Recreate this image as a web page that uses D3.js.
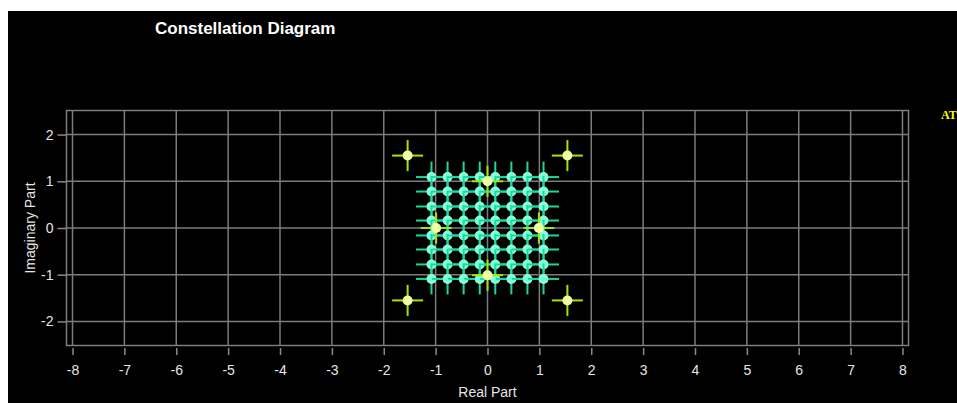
<!DOCTYPE html>
<html>
<head>
<meta charset="utf-8">
<script src="https://cdn.jsdelivr.net/npm/d3@7"></script>
<style>
  html, body { margin: 0; padding: 0; background: #fff; }
  svg { display: block; }
</style>
</head>
<body>
<div id="chart"></div>
<script>
// 64-QAM reference grid (real / imaginary levels)
var qamLevelsI = [-1.08, -0.77, -0.46, -0.15, 0.15, 0.46, 0.77, 1.08];
var qamLevelsQ = [1.09, 0.78, 0.46, 0.16, -0.16, -0.46, -0.78, -1.09];
// received symbols (yellow)
var rxI = [-1.54, 1.54, -1.54, 1.54, 0, -0.99, 0.99, 0];
var rxQ = [1.55, 1.55, -1.55, -1.55, 1.0, 0, 0, -1.01];
var xTicks = [-8, -7, -6, -5, -4, -3, -2, -1, 0, 1, 2, 3, 4, 5, 6, 7, 8];
var yTicks = [-2, -1, 0, 1, 2];

var W = 957, H = 403;
var frame = {left: 66.5, right: 908.5, top: 110.5, bottom: 345.5};

var svg = d3.select('#chart').append('svg')
    .attr('width', W).attr('height', H);

svg.append('rect').attr('x', 8).attr('y', 11)
    .attr('width', W - 8).attr('height', H - 11).attr('fill', '#000');

var x = d3.scaleLinear().domain([-8.116, 8.116]).range([frame.left, frame.right]);
var y = d3.scaleLinear().domain([-2.515, 2.515]).range([frame.bottom, frame.top]);

var grid = svg.append('g');
grid.selectAll('.vg').data(xTicks).enter().append('line')
    .attr('x1', function(d) { return x(d); }).attr('x2', function(d) { return x(d); })
    .attr('y1', frame.top).attr('y2', frame.bottom)
    .attr('stroke', '#7c7c7c').attr('stroke-width', 1.5);
grid.selectAll('.hg').data(yTicks).enter().append('line')
    .attr('y1', function(d) { return y(d); }).attr('y2', function(d) { return y(d); })
    .attr('x1', frame.left).attr('x2', frame.right)
    .attr('stroke', '#7c7c7c').attr('stroke-width', 1.5);
svg.append('rect')
    .attr('x', frame.left).attr('y', frame.top)
    .attr('width', frame.right - frame.left).attr('height', frame.bottom - frame.top)
    .attr('fill', 'none').attr('stroke', '#7c7c7c').attr('stroke-width', 1.5);

// axes
var xAxis = d3.axisBottom(x).tickValues(xTicks).tickSize(7).tickPadding(10)
    .tickFormat(function(d) { return String(d); });
var gx = svg.append('g').attr('transform', 'translate(0,' + (frame.bottom + 2.5) + ')').call(xAxis);
var yAxis = d3.axisLeft(y).tickValues(yTicks).tickSize(9).tickPadding(4)
    .tickFormat(function(d) { return String(d); });
var gy = svg.append('g').attr('transform', 'translate(' + frame.left + ',0)').call(yAxis);

[gx, gy].forEach(function(g) {
  g.select('.domain').remove();
  g.selectAll('line').attr('stroke', '#8a8a8a').attr('stroke-width', 1.5);
  g.selectAll('text').attr('fill', '#e6e6e6')
      .style('font-family', '"Liberation Sans", Arial, sans-serif').style('font-size', '14px');
});

svg.append('text').attr('x', x(0)).attr('y', 397)
    .attr('text-anchor', 'middle').attr('fill', '#e6e6e6')
    .style('font-family', '"Liberation Sans", Arial, sans-serif').style('font-size', '14px')
    .text('Real Part');
svg.append('text')
    .attr('transform', 'translate(35,' + y(0) + ') rotate(-90)')
    .attr('text-anchor', 'middle').attr('fill', '#e6e6e6')
    .style('font-family', '"Liberation Sans", Arial, sans-serif').style('font-size', '14px')
    .text('Imaginary Part');

svg.append('text').attr('x', 155).attr('y', 34)
    .attr('fill', '#fff').style('font-weight', 'bold')
    .style('font-family', '"Liberation Sans", Arial, sans-serif').style('font-size', '17px')
    .text('Constellation Diagram');

svg.append('text').attr('x', 941).attr('y', 119)
    .attr('fill', '#ffff00').style('font-weight', 'bold')
    .style('font-family', '"Liberation Serif", serif').style('font-size', '12px')
    .text('AT');

// build point tables
var qamPts = [];
qamLevelsQ.forEach(function(q) {
  qamLevelsI.forEach(function(i) { qamPts.push({i: i, q: q}); });
});
var rxPts = rxI.map(function(v, k) { return {i: v, q: rxQ[k]}; });

var arm = 15.5;
function drawSymbols(pts, lineCol, dotCol, r) {
  var g = svg.append('g');
  var s = g.selectAll('g').data(pts).enter().append('g')
      .attr('transform', function(d) { return 'translate(' + x(d.i) + ',' + y(d.q) + ')'; });
  s.append('line').attr('x1', -arm).attr('x2', arm).attr('y1', 0).attr('y2', 0)
      .attr('stroke', lineCol).attr('stroke-width', 2);
  s.append('line').attr('y1', -arm).attr('y2', arm).attr('x1', 0).attr('x2', 0)
      .attr('stroke', lineCol).attr('stroke-width', 2);
  s.append('circle').attr('r', r).attr('fill', dotCol);
}

drawSymbols(qamPts, '#19d9a0', '#86ffd6', 5);
drawSymbols(rxPts, '#a8e400', '#eeffa6', 5);
</script>
</body>
</html>
